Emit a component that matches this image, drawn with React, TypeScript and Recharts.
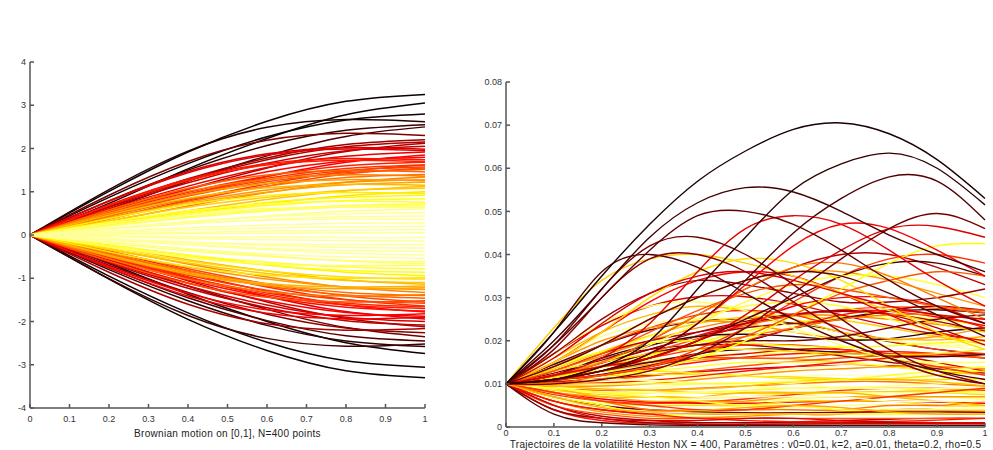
import React from 'react';
import { LineChart, Line, XAxis, YAxis } from 'recharts';

// x grid of both panels
const brownianX = [0, 0.2, 0.4, 0.6, 0.8, 1];
const hestonX = [0, 0.1, 0.2, 0.3, 0.4, 0.5, 0.6, 0.7, 0.8, 0.9, 1];

const unitTicks = [0, 0.1, 0.2, 0.3, 0.4, 0.5, 0.6, 0.7, 0.8, 0.9, 1];
const brownianYTicks = [-4, -3, -2, -1, 0, 1, 2, 3, 4];
const hestonYTicks = [0, 0.01, 0.02, 0.03, 0.04, 0.05, 0.06, 0.07, 0.08];

// left panel: paths read at x = 0, .2, .4, .6, .8, 1 (extremes first)
const brownianPaths: number[][] = [
  [0, 1.01, 1.92, 2.63, 3.09, 3.25],
  [0, -1.02, -1.95, -2.67, -3.14, -3.3],
  [0, -0.95, -1.8, -2.48, -2.91, -3.06],
  [0, 0.73, 1.53, 2.23, 2.78, 3.05],
  [0, 0.87, 1.65, 2.27, 2.66, 2.8],
  [0, -0.66, -1.37, -2.0, -2.49, -2.74],
  [0, 1.05, 1.94, 2.49, 2.67, 2.62],
  [0, -0.8, -1.52, -2.09, -2.45, -2.58],
  [0, 0.79, 1.5, 2.07, 2.42, 2.55],
  [0, -1.01, -1.86, -2.39, -2.57, -2.52],
  [0, 0.6, 1.25, 1.83, 2.28, 2.5],
  [0, -0.76, -1.45, -1.98, -2.33, -2.45],
  [0, -0.56, -1.18, -1.72, -2.14, -2.35],
  [0, 0.92, 1.7, 2.19, 2.35, 2.3],
  [0, -0.7, -1.33, -1.83, -2.15, -2.26],
  [0, 0.68, 1.3, 1.78, 2.09, 2.2],
  [0, -0.86, -1.6, -2.05, -2.2, -2.16],
  [0, 0.66, 1.26, 1.74, 2.04, 2.15],
  [0, 0.51, 1.06, 1.55, 1.93, 2.12],
  [0, -0.51, -1.06, -1.55, -1.93, -2.12],
  [0, -0.64, -1.23, -1.68, -1.98, -2.08],
  [0, 0.64, 1.21, 1.66, 1.95, 2.05],
  [0, -0.62, -1.18, -1.62, -1.9, -2.0],
  [0, 0.79, 1.47, 1.88, 2.02, 1.98],
  [0, 0.78, 1.44, 1.85, 1.99, 1.95],
  [0, -0.47, -0.97, -1.42, -1.77, -1.94],
  [0, 0.6, 1.13, 1.56, 1.82, 1.92],
  [0, -0.76, -1.41, -1.81, -1.94, -1.9],
  [0, -0.58, -1.11, -1.52, -1.79, -1.88],
  [0, 0.44, 0.93, 1.35, 1.68, 1.85],
  [0, -0.73, -1.35, -1.73, -1.86, -1.82],
  [0, 0.56, 1.06, 1.46, 1.71, 1.8],
  [0, -0.43, -0.89, -1.3, -1.62, -1.78],
  [0, -0.55, -1.04, -1.43, -1.67, -1.76],
  [0, 0.7, 1.29, 1.65, 1.77, 1.74],
  [0, 0.68, 1.26, 1.62, 1.73, 1.7],
  [0, -0.53, -1.0, -1.38, -1.62, -1.7],
  [0, 0.52, 0.99, 1.36, 1.6, 1.68],
  [0, -0.51, -0.98, -1.34, -1.58, -1.66],
  [0, -0.39, -0.82, -1.2, -1.49, -1.64],
  [0, 0.5, 0.95, 1.31, 1.54, 1.62],
  [0, 0.39, 0.81, 1.18, 1.47, 1.62],
  [0, -0.49, -0.93, -1.28, -1.5, -1.58],
  [0, 0.49, 0.93, 1.27, 1.49, 1.57],
  [0, 0.37, 0.78, 1.13, 1.41, 1.55],
  [0, -0.37, -0.78, -1.13, -1.41, -1.55],
  [0, 0.47, 0.9, 1.23, 1.44, 1.52],
  [0, -0.61, -1.12, -1.44, -1.55, -1.52],
  [0, 0.58, 1.08, 1.39, 1.49, 1.46],
  [0, -0.45, -0.86, -1.18, -1.39, -1.46],
  [0, 0.43, 0.83, 1.13, 1.33, 1.4],
  [0, -0.43, -0.83, -1.13, -1.33, -1.4],
  [0, -0.55, -1.02, -1.31, -1.41, -1.38],
  [0, 0.54, 1.01, 1.29, 1.39, 1.36],
  [0, 0.32, 0.67, 0.98, 1.22, 1.34],
  [0, -0.32, -0.67, -0.97, -1.21, -1.33],
  [0, 0.4, 0.76, 1.04, 1.22, 1.28],
  [0, -0.39, -0.74, -1.02, -1.2, -1.26],
  [0, 0.5, 0.93, 1.19, 1.28, 1.25],
  [0, 0.38, 0.72, 0.99, 1.16, 1.22],
  [0, -0.49, -0.9, -1.16, -1.24, -1.22],
  [0, -0.47, -0.87, -1.12, -1.2, -1.18],
  [0, 0.46, 0.85, 1.09, 1.17, 1.15],
  [0, -0.27, -0.57, -0.83, -1.04, -1.14],
  [0, 0.27, 0.56, 0.82, 1.02, 1.12],
  [0, -0.34, -0.65, -0.89, -1.05, -1.1],
  [0, 0.33, 0.64, 0.87, 1.03, 1.08],
  [0, -0.32, -0.6, -0.83, -0.97, -1.02],
  [0, 0.24, 0.5, 0.73, 0.91, 1.0],
  [0, -0.39, -0.73, -0.93, -1.0, -0.98],
  [0, 0.38, 0.71, 0.91, 0.98, 0.96],
  [0, -0.23, -0.47, -0.69, -0.86, -0.94],
  [0, 0.29, 0.54, 0.75, 0.87, 0.92],
  [0, -0.27, -0.51, -0.7, -0.82, -0.86],
  [0, 0.26, 0.5, 0.68, 0.8, 0.84],
  [0, -0.24, -0.46, -0.63, -0.74, -0.78],
  [0, 0.3, 0.56, 0.72, 0.78, 0.76],
  [0, 0.22, 0.42, 0.58, 0.68, 0.72],
  [0, -0.28, -0.52, -0.67, -0.71, -0.7],
  [0, 0.21, 0.4, 0.55, 0.65, 0.68],
  [0, -0.16, -0.33, -0.48, -0.6, -0.66],
  [0, 0.26, 0.47, 0.61, 0.65, 0.64],
  [0, -0.19, -0.37, -0.5, -0.59, -0.62],
  [0, 0.14, 0.3, 0.44, 0.55, 0.6],
  [0, -0.17, -0.32, -0.44, -0.51, -0.54],
  [0, 0.16, 0.31, 0.42, 0.49, 0.52],
  [0, -0.11, -0.23, -0.34, -0.42, -0.46],
  [0, 0.14, 0.26, 0.36, 0.42, 0.44],
  [0, -0.12, -0.22, -0.31, -0.36, -0.38],
  [0, 0.14, 0.27, 0.34, 0.37, 0.36],
  [0, -0.09, -0.18, -0.24, -0.29, -0.3],
  [0, 0.09, 0.17, 0.23, 0.27, 0.28],
  [0, -0.09, -0.16, -0.21, -0.22, -0.22],
  [0, 0.06, 0.12, 0.16, 0.19, 0.2],
  [0, -0.04, -0.08, -0.11, -0.13, -0.14],
  [0, 0.03, 0.06, 0.09, 0.11, 0.12],
  [0, -0.02, -0.04, -0.05, -0.06, -0.06],
  [0, 0.02, 0.03, 0.04, 0.05, 0.05],
];

// right panel: volatility paths read at x = 0, .1, ..., 1 (low band first, big arcs last)
const hestonPaths: number[][] = [
  [0.01, 0.0085, 0.0075, 0.007, 0.0068, 0.007, 0.0075, 0.008, 0.0082, 0.008, 0.0075],
  [0.01, 0.007, 0.0055, 0.005, 0.0052, 0.0058, 0.0065, 0.007, 0.0072, 0.007, 0.0065],
  [0.01, 0.006, 0.0035, 0.0025, 0.0022, 0.0025, 0.003, 0.0035, 0.0038, 0.0038, 0.0035],
  [0.01, 0.0075, 0.006, 0.0055, 0.0058, 0.0065, 0.0075, 0.0085, 0.009, 0.009, 0.0085],
  [0.01, 0.005, 0.0025, 0.0015, 0.001, 0.001, 0.0012, 0.0015, 0.0018, 0.002, 0.002],
  [0.01, 0.009, 0.0085, 0.0085, 0.009, 0.0095, 0.01, 0.0105, 0.0105, 0.01, 0.0095],
  [0.01, 0.0065, 0.0045, 0.0038, 0.0036, 0.004, 0.0045, 0.005, 0.0052, 0.005, 0.0046],
  [0.01, 0.008, 0.0065, 0.0058, 0.0055, 0.0055, 0.0058, 0.006, 0.006, 0.0058, 0.0055],
  [0.01, 0.004, 0.0015, 0.0008, 0.0006, 0.0006, 0.0007, 0.0008, 0.0008, 0.0008, 0.0008],
  [0.01, 0.0095, 0.009, 0.0085, 0.008, 0.0078, 0.0078, 0.008, 0.0082, 0.0085, 0.0088],
  [0.01, 0.007, 0.005, 0.004, 0.0035, 0.0033, 0.0033, 0.0034, 0.0035, 0.0035, 0.0034],
  [0.01, 0.0088, 0.008, 0.0078, 0.008, 0.0085, 0.009, 0.0092, 0.009, 0.0085, 0.008],
  [0.01, 0.008, 0.007, 0.006, 0.006, 0.006, 0.007, 0.007, 0.007, 0.007, 0.007],
  [0.01, 0.009, 0.008, 0.008, 0.008, 0.008, 0.008, 0.008, 0.008, 0.008, 0.008],
  [0.01, 0.006, 0.004, 0.003, 0.003, 0.003, 0.003, 0.003, 0.004, 0.004, 0.004],
  [0.01, 0.008, 0.006, 0.005, 0.005, 0.005, 0.006, 0.006, 0.006, 0.005, 0.005],
  [0.01, 0.005, 0.003, 0.002, 0.002, 0.002, 0.002, 0.002, 0.002, 0.002, 0.002],
  [0.01, 0.009, 0.009, 0.009, 0.01, 0.01, 0.01, 0.009, 0.009, 0.009, 0.009],
  [0.01, 0.004, 0.002, 0.001, 0.001, 0.001, 0.001, 0.001, 0.001, 0.001, 0.001],
  [0.01, 0.008, 0.006, 0.004, 0.004, 0.004, 0.004, 0.004, 0.005, 0.005, 0.006],
  [0.01, 0.007, 0.005, 0.003, 0.003, 0.003, 0.003, 0.003, 0.003, 0.003, 0.003],
  [0.01, 0.006, 0.004, 0.003, 0.002, 0.0015, 0.0012, 0.0012, 0.0013, 0.0016, 0.002],
  [0.01, 0.009, 0.007, 0.007, 0.007, 0.008, 0.008, 0.008, 0.007, 0.006, 0.005],
  [0.01, 0.003, 0.001, 0.0005, 0.0004, 0.0004, 0.0004, 0.0004, 0.0004, 0.0004, 0.0004],
  [0.01, 0.009, 0.008, 0.007, 0.006, 0.005, 0.005, 0.004, 0.004, 0.004, 0.004],
  [0.01, 0.008, 0.006, 0.005, 0.004, 0.004, 0.005, 0.006, 0.007, 0.008, 0.009],
  [0.01, 0.01, 0.009, 0.008, 0.007, 0.007, 0.007, 0.007, 0.006, 0.006, 0.006],
  [0.01, 0.005, 0.002, 0.0015, 0.0015, 0.002, 0.002, 0.0015, 0.0012, 0.001, 0.001],
  [0.01, 0.007, 0.0045, 0.0035, 0.0038, 0.0045, 0.005, 0.0045, 0.0035, 0.003, 0.003],
  [0.01, 0.0115, 0.013, 0.0145, 0.0155, 0.016, 0.0158, 0.015, 0.014, 0.013, 0.012],
  [0.01, 0.0105, 0.0112, 0.012, 0.0128, 0.0135, 0.014, 0.0143, 0.0143, 0.014, 0.0135],
  [0.01, 0.012, 0.014, 0.0155, 0.0165, 0.017, 0.017, 0.0165, 0.0155, 0.0145, 0.0135],
  [0.01, 0.0102, 0.0108, 0.0118, 0.013, 0.0142, 0.0152, 0.016, 0.0165, 0.0165, 0.016],
  [0.01, 0.011, 0.0118, 0.0122, 0.0122, 0.012, 0.0116, 0.0112, 0.011, 0.011, 0.0112],
  [0.01, 0.013, 0.016, 0.018, 0.019, 0.019, 0.018, 0.0165, 0.015, 0.0135, 0.0125],
  [0.01, 0.0098, 0.01, 0.0106, 0.0115, 0.0125, 0.0135, 0.0142, 0.0145, 0.0143, 0.0138],
  [0.01, 0.0108, 0.012, 0.0135, 0.015, 0.0162, 0.017, 0.0175, 0.0175, 0.017, 0.016],
  [0.01, 0.011, 0.012, 0.013, 0.014, 0.015, 0.015, 0.015, 0.014, 0.013, 0.013],
  [0.01, 0.012, 0.014, 0.015, 0.016, 0.016, 0.016, 0.017, 0.017, 0.017, 0.016],
  [0.01, 0.011, 0.012, 0.014, 0.016, 0.017, 0.018, 0.018, 0.017, 0.015, 0.013],
  [0.01, 0.01, 0.011, 0.011, 0.012, 0.012, 0.012, 0.012, 0.012, 0.012, 0.012],
  [0.01, 0.0095, 0.0095, 0.01, 0.011, 0.012, 0.013, 0.0135, 0.014, 0.014, 0.0135],
  [0.01, 0.012, 0.013, 0.013, 0.0125, 0.0118, 0.0112, 0.011, 0.0112, 0.012, 0.013],
  [0.01, 0.01, 0.0102, 0.0108, 0.0118, 0.013, 0.014, 0.015, 0.016, 0.0168, 0.017],
  [0.01, 0.011, 0.011, 0.0108, 0.0102, 0.0095, 0.009, 0.009, 0.0095, 0.01, 0.0105],
  [0.01, 0.011, 0.013, 0.015, 0.017, 0.018, 0.018, 0.0172, 0.0165, 0.0163, 0.0168],
  [0.01, 0.0095, 0.0088, 0.0085, 0.0088, 0.0095, 0.0105, 0.011, 0.011, 0.0105, 0.0095],
  [0.01, 0.01, 0.01, 0.01, 0.01, 0.0102, 0.0105, 0.011, 0.012, 0.013, 0.014],
  [0.01, 0.012, 0.014, 0.016, 0.018, 0.019, 0.019, 0.018, 0.016, 0.014, 0.012],
  [0.01, 0.013, 0.0165, 0.02, 0.023, 0.025, 0.026, 0.0258, 0.025, 0.0238, 0.0225],
  [0.01, 0.0115, 0.0138, 0.0165, 0.0195, 0.0222, 0.0242, 0.0255, 0.0258, 0.025, 0.0235],
  [0.01, 0.0145, 0.019, 0.0225, 0.0245, 0.025, 0.024, 0.022, 0.0198, 0.018, 0.0168],
  [0.01, 0.012, 0.0148, 0.018, 0.0212, 0.024, 0.026, 0.027, 0.0268, 0.0255, 0.0235],
  [0.01, 0.016, 0.021, 0.024, 0.0252, 0.025, 0.0238, 0.022, 0.0202, 0.0188, 0.018],
  [0.01, 0.0108, 0.0122, 0.0142, 0.0168, 0.0198, 0.0228, 0.0252, 0.0268, 0.0272, 0.0265],
  [0.01, 0.0135, 0.0175, 0.0212, 0.024, 0.0255, 0.0258, 0.0248, 0.023, 0.021, 0.0192],
  [0.01, 0.0125, 0.0155, 0.0188, 0.022, 0.0245, 0.0262, 0.0268, 0.0262, 0.0245, 0.0222],
  [0.01, 0.0118, 0.0142, 0.0172, 0.0205, 0.0235, 0.0258, 0.0272, 0.0278, 0.0275, 0.0265],
  [0.01, 0.017, 0.0235, 0.028, 0.0302, 0.0302, 0.0285, 0.026, 0.0235, 0.0215, 0.02],
  [0.01, 0.014, 0.019, 0.023, 0.026, 0.027, 0.026, 0.023, 0.02, 0.018, 0.017],
  [0.01, 0.013, 0.017, 0.021, 0.025, 0.028, 0.029, 0.028, 0.025, 0.022, 0.02],
  [0.01, 0.012, 0.015, 0.018, 0.021, 0.023, 0.024, 0.025, 0.027, 0.028, 0.027],
  [0.01, 0.015, 0.02, 0.023, 0.0245, 0.024, 0.022, 0.0205, 0.0202, 0.021, 0.023],
  [0.01, 0.011, 0.013, 0.016, 0.02, 0.024, 0.028, 0.03, 0.03, 0.028, 0.024],
  [0.01, 0.013, 0.016, 0.019, 0.021, 0.022, 0.022, 0.021, 0.02, 0.019, 0.019],
  [0.01, 0.012, 0.016, 0.019, 0.021, 0.0215, 0.021, 0.0202, 0.0205, 0.022, 0.023],
  [0.01, 0.016, 0.022, 0.026, 0.028, 0.027, 0.025, 0.022, 0.0205, 0.0202, 0.021],
  [0.01, 0.011, 0.012, 0.014, 0.017, 0.02, 0.023, 0.026, 0.027, 0.026, 0.023],
  [0.01, 0.014, 0.0175, 0.0195, 0.02, 0.0195, 0.0188, 0.0185, 0.0188, 0.0195, 0.02],
  [0.01, 0.013, 0.017, 0.02, 0.022, 0.024, 0.026, 0.027, 0.026, 0.023, 0.019],
  [0.01, 0.012, 0.014, 0.017, 0.019, 0.021, 0.023, 0.025, 0.026, 0.026, 0.025],
  [0.01, 0.017, 0.024, 0.028, 0.029, 0.027, 0.023, 0.019, 0.016, 0.015, 0.015],
  [0.01, 0.011, 0.014, 0.017, 0.019, 0.02, 0.02, 0.021, 0.023, 0.025, 0.026],
  [0.01, 0.013, 0.015, 0.017, 0.018, 0.018, 0.0175, 0.017, 0.0168, 0.017, 0.018],
  [0.01, 0.012, 0.015, 0.02, 0.026, 0.032, 0.037, 0.04, 0.04, 0.037, 0.033],
  [0.01, 0.011, 0.012, 0.014, 0.018, 0.023, 0.029, 0.035, 0.039, 0.04, 0.038],
  [0.01, 0.014, 0.019, 0.025, 0.03, 0.034, 0.036, 0.036, 0.034, 0.031, 0.028],
  [0.01, 0.011, 0.013, 0.016, 0.02, 0.025, 0.03, 0.035, 0.038, 0.038, 0.035],
  [0.01, 0.015, 0.022, 0.029, 0.034, 0.036, 0.035, 0.031, 0.026, 0.022, 0.02],
  [0.01, 0.012, 0.015, 0.019, 0.024, 0.029, 0.033, 0.035, 0.035, 0.033, 0.03],
  [0.01, 0.017, 0.025, 0.031, 0.034, 0.033, 0.031, 0.029, 0.029, 0.03, 0.032],
  [0.01, 0.013, 0.017, 0.022, 0.027, 0.031, 0.033, 0.032, 0.03, 0.028, 0.027],
  [0.01, 0.023, 0.034, 0.039, 0.04, 0.038, 0.035, 0.031, 0.027, 0.024, 0.022],
  [0.01, 0.015, 0.022, 0.03, 0.036, 0.039, 0.038, 0.034, 0.028, 0.022, 0.018],
  [0.01, 0.01, 0.011, 0.013, 0.016, 0.02, 0.026, 0.032, 0.038, 0.042, 0.0425],
  [0.01, 0.012, 0.015, 0.02, 0.026, 0.032, 0.037, 0.038, 0.035, 0.03, 0.025],
  [0.01, 0.01, 0.012, 0.014, 0.017, 0.021, 0.026, 0.031, 0.034, 0.036, 0.035],
  [0.01, 0.016, 0.024, 0.031, 0.035, 0.036, 0.034, 0.031, 0.028, 0.026, 0.025],
  [0.01, 0.012, 0.016, 0.024, 0.036, 0.046, 0.049, 0.047, 0.041, 0.034, 0.028],
  [0.01, 0.011, 0.013, 0.017, 0.024, 0.033, 0.042, 0.047, 0.046, 0.041, 0.035],
  [0.01, 0.012, 0.014, 0.016, 0.02, 0.026, 0.034, 0.041, 0.046, 0.0465, 0.044],
  [0.01, 0.014, 0.019, 0.025, 0.03, 0.034, 0.036, 0.035, 0.031, 0.026, 0.021],
  [0.01, 0.022, 0.036, 0.04, 0.037, 0.031, 0.025, 0.02, 0.016, 0.013, 0.011],
  [0.01, 0.018, 0.03, 0.039, 0.04, 0.036, 0.029, 0.022, 0.016, 0.012, 0.01],
  [0.01, 0.019, 0.032, 0.042, 0.044, 0.04, 0.033, 0.025, 0.018, 0.013, 0.01],
  [0.01, 0.01, 0.011, 0.013, 0.017, 0.023, 0.031, 0.039, 0.046, 0.0495, 0.046],
  [0.01, 0.011, 0.013, 0.017, 0.024, 0.034, 0.045, 0.053, 0.058, 0.057, 0.048],
  [0.01, 0.019, 0.03, 0.041, 0.049, 0.05, 0.047, 0.041, 0.034, 0.028, 0.024],
  [0.01, 0.02, 0.032, 0.044, 0.052, 0.0555, 0.0545, 0.05, 0.0445, 0.04, 0.036],
  [0.01, 0.011, 0.014, 0.02, 0.032, 0.044, 0.055, 0.061, 0.0635, 0.06, 0.0515],
  [0.01, 0.022, 0.035, 0.047, 0.057, 0.064, 0.069, 0.0705, 0.068, 0.062, 0.053],
];

// colormap position of each volatility path (0 = black, 1 = white)
const hestonHeat = [
  0.7, 0.85, 0.6, 0.45, 0.25, 0.55, 0.9, 0.35, 0.4, 0.65, 0.15, 0.78,
  0.6, 0.85, 0.3, 0.7, 0.5, 0.9, 0.2, 0.55, 0.75, 0.4, 0.65, 0.12, 0.8, 0.45, 0.95, 0.3, 0.62,
  0.62, 0.3, 0.82, 0.5, 0.7, 0.2, 0.92, 0.4,
  0.8, 0.5, 0.3, 0.95, 0.6, 0.72, 0.4, 0.88, 0.1, 0.65, 0.78, 0.45,
  0.58, 0.75, 0.1, 0.35, 0.88, 0.05, 0.68, 0.22, 0.5, 0.3,
  0.45, 0.8, 0.2, 0.6, 0.35, 0.9, 0.05, 0.65, 0.4, 0.75, 0.25, 0.55, 0.85, 0.15, 0.7,
  0.25, 0.45, 0.6, 0.1, 0.35, 0.8, 0.2, 0.5,
  0.68, 0.7, 0.75, 0.55, 0.5, 0.3, 0.32, 0.35, 0.3, 0.12, 0.1, 0.18, 0.15, 0.15, 0.1, 0.12, 0.08, 0.05, 0.02,
];

function hot(h: number) {
  const t = Math.max(0, Math.min(1, h));
  const r = Math.min(1, 0.05 + t / 0.375);
  const g = Math.max(0, Math.min(1, (t - 0.375) / 0.375));
  const b = Math.max(0, Math.min(1, (t - 0.75) / 0.25));
  return `rgb(${Math.round(r * 255)},${Math.round(g * 255)},${Math.round(b * 255)})`;
}

// shade by how far the path ends from zero (pale yellow at most)
const brownianHeat = brownianPaths.map((p) => Math.min(0.9, 1 - (Math.abs(p[p.length - 1]) - 0.3) / 2.4));

const toRows = (xs: number[], paths: number[][]) =>
  xs.map((x, i) => {
    const row: Record<string, number> = { x };
    paths.forEach((p, k) => {
      row['p' + k] = p[i];
    });
    return row;
  });

const brownianRows = toRows(brownianX, brownianPaths);
const hestonRows = toRows(hestonX, hestonPaths);

const axisStroke = '#555';
const tickStyle = { fontSize: 9, fill: '#333' };

const App: React.FC = () => {
  return (
    <div
      style={{
        position: 'absolute',
        left: 0,
        top: 0,
        width: 993,
        height: 450,
        overflow: 'hidden',
        background: '#fff',
        fontFamily: '"Liberation Sans", Arial, sans-serif',
      }}
    >
      <div style={{ position: 'absolute', left: 0, top: 0 }}>
        <LineChart width={470} height={450} data={brownianRows} margin={{ top: 62, right: 45, left: 0, bottom: 12 }}>
          <XAxis
            dataKey="x"
            type="number"
            domain={[0, 1]}
            ticks={unitTicks}
            tick={tickStyle}
            tickSize={-4}
            tickMargin={12}
            height={30}
            stroke={axisStroke}
            strokeWidth={1.5}
            label={{
              value: 'Brownian motion on [0,1], N=400 points',
              position: 'insideBottom',
              offset: 1,
              fontSize: 10,
              fill: '#222',
              letterSpacing: 0.3,
            }}
          />
          <YAxis
            type="number"
            domain={[-4, 4]}
            ticks={brownianYTicks}
            tick={tickStyle}
            tickSize={-4}
            tickMargin={8}
            width={30}
            stroke={axisStroke}
            strokeWidth={1.5}
          />
          {brownianPaths.map((_, k) => (
            <Line
              key={k}
              type="natural"
              dataKey={'p' + k}
              stroke={hot(brownianHeat[k])}
              strokeWidth={1.5}
              dot={false}
              activeDot={false}
              isAnimationActive={false}
            />
          ))}
        </LineChart>
      </div>
      <div style={{ position: 'absolute', left: 470, top: 0 }}>
        <LineChart width={523} height={460} data={hestonRows} margin={{ top: 82, right: 8, left: 0, bottom: 0 }}>
          <XAxis
            dataKey="x"
            type="number"
            domain={[0, 1]}
            ticks={unitTicks}
            tick={tickStyle}
            tickSize={-4}
            tickMargin={7}
            height={33}
            stroke={axisStroke}
            strokeWidth={1.5}
            label={{
              value: 'Trajectoires de la volatilité Heston NX = 400, Paramètres : v0=0.01, k=2, a=0.01, theta=0.2, rho=0.5',
              position: 'insideBottom',
              offset: 12.2,
              fontSize: 10,
              fill: '#222',
              letterSpacing: 0.3,
            }}
          />
          <YAxis
            type="number"
            domain={[0, 0.08]}
            ticks={hestonYTicks}
            tick={tickStyle}
            tickSize={-4}
            tickMargin={8}
            width={36}
            stroke={axisStroke}
            strokeWidth={1.5}
            tickFormatter={(v: number) => (v === 0 ? '0' : v.toFixed(2))}
          />
          {hestonPaths.map((_, k) => (
            <Line
              key={k}
              type="natural"
              dataKey={'p' + k}
              stroke={hot(hestonHeat[k])}
              strokeWidth={1.4}
              dot={false}
              activeDot={false}
              isAnimationActive={false}
            />
          ))}
        </LineChart>
      </div>
    </div>
  );
};

export default App;
